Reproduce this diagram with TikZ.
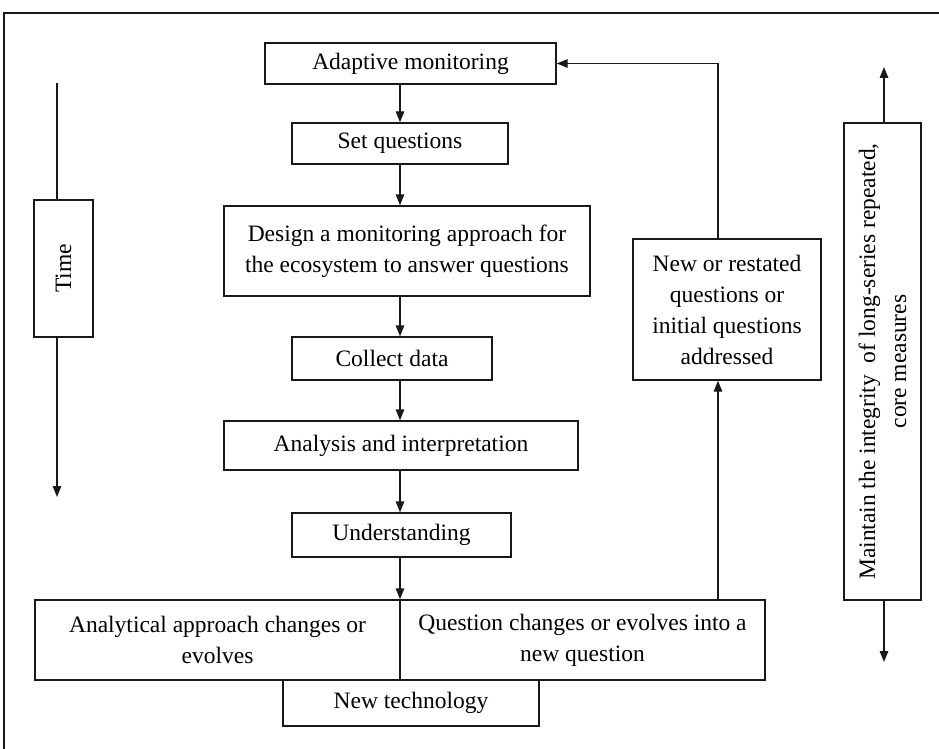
\documentclass[tikz,border=0pt]{standalone}
\usepackage{fontspec}
\setmainfont{Liberation Serif}
\usetikzlibrary{arrows.meta}
\begin{document}
\begin{tikzpicture}[x=1pt,y=-1pt,
  line width=1.4pt, draw=black!90,
  box/.style={draw=black!90, line width=1.4pt, fill=white, inner sep=0pt, align=center,
     font=\fontsize{23.5}{31}\selectfont},
  arr/.style={-{Triangle[length=11pt,width=8.5pt]}}]
\useasboundingbox (0,0) rectangle (939,749);
% outer frame (partly cut off)
\draw (4,749) -- (4,13) -- (939,13);
% guide coordinates
\coordinate (X) at (400,0);
\coordinate (F) at (718,0);
\coordinate (t1) at (57,83);
\coordinate (t2) at (57,497);
\coordinate (r1) at (884,67);
\coordinate (r2) at (884,662);
% nodes
\node[box, minimum width=291, minimum height=41] (adapt) at (410.5,63.5) {Adaptive monitoring};
\node[box, minimum width=216, minimum height=41] (setq) at (400,143.5) {Set questions};
\node[box, minimum width=366, minimum height=90] (design) at (407,251)
  {Design a monitoring approach for\\ the ecosystem to answer questions};
\node[box, minimum width=200, minimum height=43] (collect) at (392,358.5) {Collect data};
\node[box, minimum width=354, minimum height=49] (anal) at (401,445.5) {Analysis and interpretation};
\node[box, minimum width=219, minimum height=44] (under) at (401.5,535) {Understanding};
\node[box, minimum width=256, minimum height=46] (newtech) at (411,703) {New technology};
\node[box, minimum width=365, minimum height=80] (lb) at (217.5,640)
  {\raisebox{4pt}{\parbox{360pt}{\centering Analytical approach changes or\\ evolves}}};
\node[box, minimum width=365, minimum height=80] (rb) at (582.5,640)
  {\raisebox{4pt}{\parbox{360pt}{\centering Question changes or evolves into a\\ new question}}};
\node[box, minimum width=188, minimum height=141] (newor) at (727,309.5)
  {New or restated\\ questions or\\ initial questions\\ addressed};
\node[box, rotate=90, minimum width=137, minimum height=59] (time) at (63.5,268.5) {Time};
\node[box, rotate=90, minimum width=477, minimum height=77] (maint) at (882.5,361.5)
  {Maintain the integrity\ \ of long-series repeated,\\ core measures};
% main flow
\draw[arr] (adapt.south -| X) -- (setq.north -| X);
\draw[arr] (setq.south -| X) -- (design.north -| X);
\draw[arr] (design.south -| X) -- (collect.north -| X);
\draw[arr] (collect.south -| X) -- (anal.north -| X);
\draw[arr] (anal.south -| X) -- (under.north -| X);
\draw[arr] (under.south -| X) -- (lb.north east -| X);
% feedback
\draw[arr] (rb.north -| F) -- (newor.south -| F);
\draw[arr] (newor.north -| F) |- (adapt.east);
% time axis
\draw (t1) -- (time.east -| t1);
\draw[arr] (time.west -| t1) -- (t2);
% right axis
\draw[arr] (maint.east -| r1) -- (r1);
\draw[arr] (maint.west -| r1) -- (r2);
\end{tikzpicture}
\end{document}
